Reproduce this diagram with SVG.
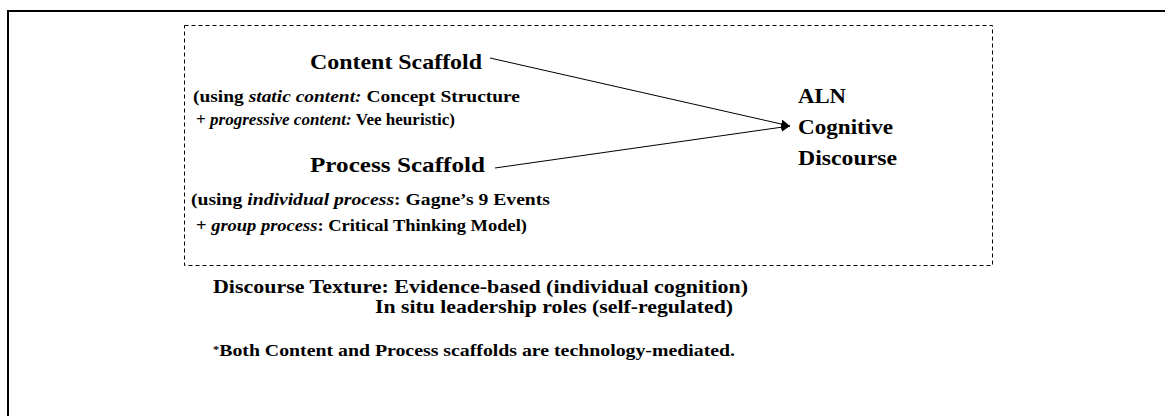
<svg xmlns="http://www.w3.org/2000/svg" width="1165" height="416" viewBox="0 0 1165 416">
<defs>
<style>
text{font-family:"Liberation Serif","Times New Roman",serif;font-weight:bold;fill:#000}
.h{font-size:22px}
.s{font-size:17px}
.b{font-size:18px}
.f{font-size:16px}
.i{font-style:italic}
.c{stroke:#000;stroke-width:1;fill:none}
</style>
<marker id="ah" viewBox="0 0 10 10" refX="10" refY="5" markerWidth="9" markerHeight="9" markerUnits="userSpaceOnUse" orient="auto">
<path d="M0,0 L10,5 L0,10 z" fill="#000"/>
</marker>
</defs>
<rect width="1165" height="416" fill="#fff"/>
<g id="frame">
<path d="M8,430 L8,11 L1170,11" fill="none" stroke="#000" stroke-width="2"/>
</g>
<g id="scaffold-box">
<rect x="184.5" y="25.5" width="808" height="240" fill="none" stroke="#000" stroke-width="1" stroke-dasharray="4,3"/>
</g>
<g id="content-scaffold">
<text class="h" x="310" y="69" textLength="172" lengthAdjust="spacingAndGlyphs">Content Scaffold</text>
<text class="s" x="193" y="102" textLength="327" lengthAdjust="spacingAndGlyphs">(using <tspan class="i">static content:</tspan> Concept Structure</text>
<text class="s" x="196" y="125" textLength="259" lengthAdjust="spacingAndGlyphs">+ <tspan class="i">progressive content:</tspan> Vee heuristic)</text>
</g>
<g id="process-scaffold">
<text class="h" x="310" y="172" textLength="175" lengthAdjust="spacingAndGlyphs">Process Scaffold</text>
<text class="s" x="191" y="205" textLength="359" lengthAdjust="spacingAndGlyphs">(using <tspan class="i">individual process</tspan>: Gagne’s 9 Events</text>
<text class="s" x="196" y="231" textLength="331" lengthAdjust="spacingAndGlyphs">+ <tspan class="i">group process</tspan>: Critical Thinking Model)</text>
</g>
<g id="aln-discourse">
<text class="h" x="798" y="103" textLength="48" lengthAdjust="spacingAndGlyphs">ALN</text>
<text class="h" x="798" y="134" textLength="95" lengthAdjust="spacingAndGlyphs">Cognitive</text>
<text class="h" x="798" y="165" textLength="99" lengthAdjust="spacingAndGlyphs">Discourse</text>
</g>
<g id="connectors">
<line class="c" x1="490" y1="58" x2="790" y2="126" marker-end="url(#ah)"/>
<line class="c" x1="495" y1="168" x2="790" y2="126" marker-end="url(#ah)"/>
</g>
<g id="notes">
<text class="b" x="213" y="293" textLength="535" lengthAdjust="spacingAndGlyphs">Discourse Texture: Evidence-based (individual cognition)</text>
<text class="b" x="375" y="313" textLength="358" lengthAdjust="spacingAndGlyphs">In situ leadership roles (self-regulated)</text>
<text class="f" x="213" y="356" textLength="522" lengthAdjust="spacingAndGlyphs"><tspan font-size="10" dy="-3">*</tspan><tspan dy="3">Both Content and Process scaffolds are technology-mediated.</tspan></text>
</g>
</svg>
